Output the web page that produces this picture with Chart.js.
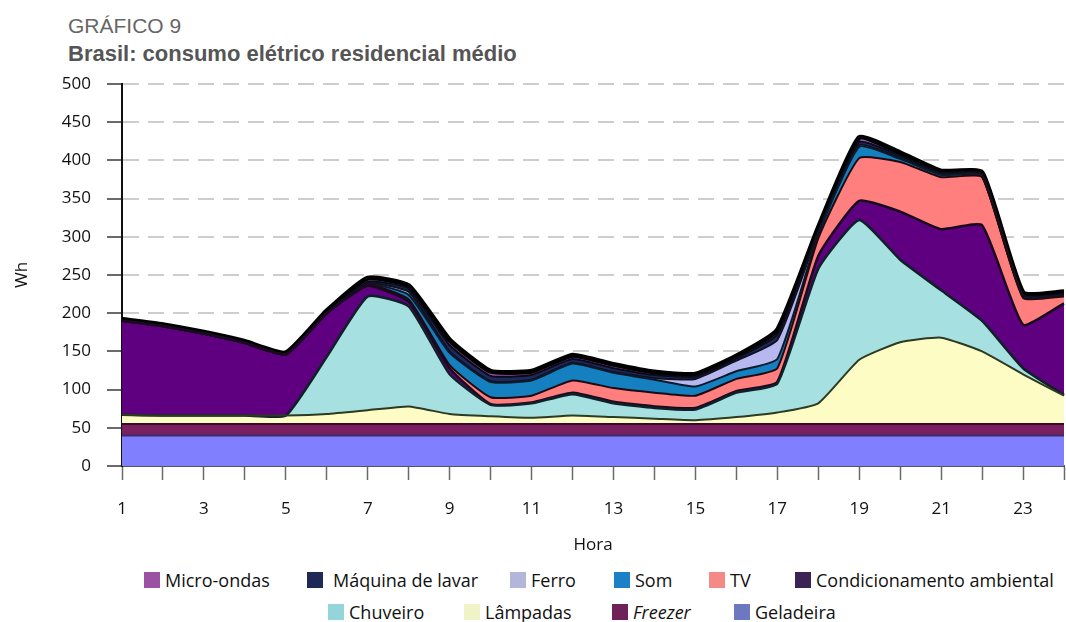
<!DOCTYPE html>
<html lang="pt-BR">
<head>
<meta charset="utf-8">
<title>Brasil: consumo elétrico residencial médio</title>
<script src="https://cdn.jsdelivr.net/npm/chart.js@4.4.1/dist/chart.umd.min.js"></script>
<style>
  html, body { margin: 0; padding: 0; background: #fff; }
  body { width: 1066px; height: 622px; position: relative; overflow: hidden; font-family: "Open Sans", sans-serif; }
  #kicker { position: absolute; left: 68px; top: 15px; font: 21px/22px "Liberation Sans", sans-serif; color: #666; }
  #title  { position: absolute; left: 68px; top: 43px; font: bold 22px/22px "Liberation Sans", sans-serif; color: #555; }
  #chart  { position: absolute; left: 0; top: 0; }
  .leg { position: absolute; display: flex; align-items: center; height: 18px; font-size: 18px; line-height: 18px; color: #111; white-space: nowrap; }
  .leg .sw { display: inline-block; width: 16px; height: 16px; margin-right: 5px; }
</style>
</head>
<body>
<div id="kicker">GRÁFICO 9</div>
<div id="title">Brasil: consumo elétrico residencial médio</div>
<canvas id="chart" width="1066" height="560"></canvas>
<div id="legend"></div>

<script>
// horas do dia
const hours = ['1','2','3','4','5','6','7','8','9','10','11','12','13','14','15','16','17','18','19','20','21','22','23','24'];

// consumo por uso final (Wh), de baixo para cima na pilha
const geladeira     = [40,40,40,40,40,40,40,40,40,40,40,40,40,40,40,40,40,40,40,40,40,40,40,40];
const freezer       = [15,15,15,15,15,15,15,15,15,15,15,15,15,15,15,15,15,15,15,15,15,15,15,15];
const lampadas      = [12,11,11,11,11,13,18,23,13,10,8,11,9,7,5,9,15,27,84,107,113,95,65,37];
const chuveiro      = [0,0,0,0,0,75,149,131,52,15,19,28,18,14,14,32,38,176,183,108,62,40,8,1];
const condicionam   = [123,117,107,95,80,57,14,6,8,1,1,2,2,2,2,2,2,17,25,63,80,125,57,120];
const tv            = [0,0,0,0,0,0,1,3,4,9,9,16,18,18,16,16,18,23,56,65,68,63,35,9];
const som           = [0,0,0,0,0,0,1,6,16,20,20,22,20,17,12,10,12,5,15,4,3,2,2,1];
const ferro         = [0,0,0,0,0,0,1,4,2,1,1,1,1,2,10,14,25,2,2,1,1,1,1,1];
const maquinaLavar  = [1,1,1,1,1,1,2,4,8,7,6,5,5,4,3,3,7,3,4,3,2,1,1,1];
const microondas    = [1,1,1,1,1,2,5,4,7,6,5,5,5,4,3,3,6,4,6,4,2,2,3,3];

const seriesNames = ['Geladeira','Freezer','Lâmpadas','Chuveiro','Condicionamento ambiental','TV','Som','Ferro','Máquina de lavar','Micro-ondas'];
const seriesData  = [geladeira, freezer, lampadas, chuveiro, condicionam, tv, som, ferro, maquinaLavar, microondas];

// cores da área, da borda e da legenda
const fillColors   = ['#8080ff','#7a2061','#fdfcc4','#a6e0e0','#5e0080','#ff7f7f','#1580c0','#b8b8f0','#1e2a5e','#9b52a3'];
const lineColors   = ['#3a2a6a','#3a0a2a','#2d3a22','#102028','#1a0a20','#200a10','#0a1a2a','#101020','#0a0a18','#000000'];
const lineWidths   = [2,2,2,2.5,2.5,2,2,2,2,5];
const legendColors = ['#6c78c0','#6e2257','#f0f3c6','#94d5dc','#3c2255','#f38a85','#1b80c6','#b3b5db','#1e2a55','#9b52a3'];

// legenda em duas linhas, como no original
const legendRows = [
  ['Micro-ondas','Máquina de lavar','Ferro','Som','TV','Condicionamento ambiental'],
  ['Chuveiro','Lâmpadas','Freezer','Geladeira']
];
const legendLeft = [[144,307,510,614,709,795],[328,464,612,734]];
const legendTop  = [571, 603];

const legendEl = document.getElementById('legend');
legendRows.forEach((row, r) => {
  row.forEach((name, i) => {
    const k = seriesNames.indexOf(name);
    const item = document.createElement('div');
    item.className = 'leg';
    item.style.left = legendLeft[r][i] + 'px';
    item.style.top  = legendTop[r] + 'px';
    const sw = document.createElement('span');
    sw.className = 'sw';
    sw.style.background = legendColors[k];
    if (name === 'Máquina de lavar') sw.style.marginRight = '10px';
    const txt = document.createElement('span');
    txt.textContent = name;
    if (name === 'Freezer') txt.style.fontStyle = 'italic';
    item.appendChild(sw);
    item.appendChild(txt);
    legendEl.appendChild(item);
  });
});

const datasets = seriesData.map((d, i) => ({
  label: seriesNames[i],
  data: d,
  backgroundColor: fillColors[i],
  borderColor: lineColors[i],
  borderWidth: lineWidths[i],
  fill: i === 0 ? 'origin' : '-1',
  pointRadius: 0,
  tension: 0.15
}));

const tickFont = { family: 'Open Sans', size: 17 };

new Chart(document.getElementById('chart'), {
  type: 'line',
  data: { labels: hours, datasets },
  options: {
    responsive: false,
    animation: false,
    layout: { padding: { top: 84, right: 2, left: 0, bottom: 0 } },
    plugins: {
      legend: { display: false },
      tooltip: { enabled: false },
      filler: { drawTime: 'beforeDatasetsDraw' }
    },
    scales: {
      x: {
        offset: false,
        ticks: {
          autoSkip: false, maxRotation: 0, color: '#111', font: tickFont, padding: 19,
          callback: (v, i) => (i % 2 === 0 ? hours[i] : '')
        },
        grid: { drawOnChartArea: false, tickLength: 14, tickColor: '#6a6a6a', tickWidth: 1.5 },
        border: { color: '#555', width: 2 },
        title: { display: true, text: 'Hora', color: '#111', font: tickFont, padding: { top: 0, bottom: 5 } },
        afterFit: s => { s.height = 560 - 466; s.paddingRight = 0; s.paddingLeft = 0; }
      },
      y: {
        stacked: true,
        min: 0, max: 500,
        ticks: { stepSize: 50, color: '#111', font: tickFont, padding: 16 },
        grid: { color: '#cdcdcd', lineWidth: 2, tickColor: '#6a6a6a', tickLength: 15, tickWidth: 2, tickBorderDash: [] },
        border: { color: '#111', width: 2, dash: [16, 9] },
        title: { display: true, text: 'Wh', color: '#111', font: tickFont, padding: { top: 12, bottom: 0 } },
        afterFit: s => { s.width = 122; s.paddingTop = 0; s.paddingBottom = 0; }
      }
    }
  }
});
</script>
</body>
</html>
